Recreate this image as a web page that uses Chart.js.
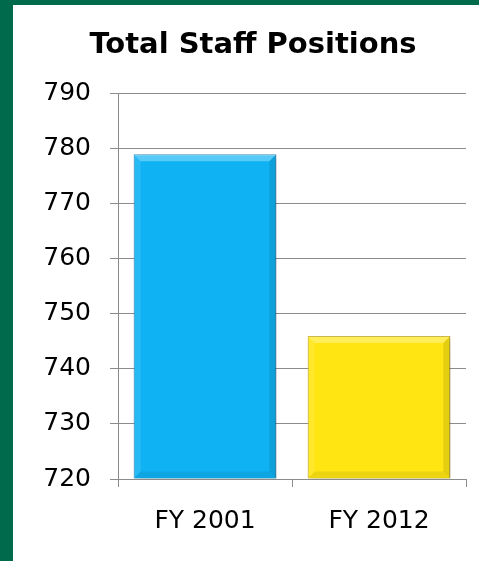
<!DOCTYPE html>
<html>
<head>
<meta charset="utf-8">
<script src="https://cdn.jsdelivr.net/npm/chart.js@4/dist/chart.umd.min.js"></script>
<style>
  html, body { margin: 0; padding: 0; }
  body { width: 479px; height: 561px; background: #006a4d; position: relative; overflow: hidden; }
  #box { position: absolute; left: 13px; top: 5px; width: 466px; height: 556px; background: #fff; }
</style>
</head>
<body>
<div id="box"><canvas id="staffChart" width="466" height="556"></canvas></div>
<script>
const categories = ["FY 2001", "FY 2012"];
const positions = [779, 746];
const barColors = ["#0fb3f4", "#ffe512"];
const barBorders = ["#0a7fb4", "#b9a000"];
const yTicks = [720, 730, 740, 750, 760, 770, 780, 790];

// little bevel + shadow, like the office chart
const bevel = {
  id: "bevel",
  beforeDatasetsDraw(chart) {
    const ctx = chart.ctx;
    ctx.save();
    ctx.shadowColor = "rgba(0,0,0,0.3)";
    ctx.shadowBlur = 6;
    ctx.shadowOffsetX = 2;
    ctx.shadowOffsetY = 3;
  },
  afterDatasetsDraw(chart) {
    const ctx = chart.ctx;
    ctx.restore();
    chart.getDatasetMeta(0).data.forEach(function (bar) {
      let l = bar.x - bar.width / 2, r = bar.x + bar.width / 2;
      let t = bar.y, b = Math.min(bar.base, chart.chartArea.bottom), d = 7;
      ctx.save();
      ctx.fillStyle = "rgba(255,255,255,0.3)";
      ctx.beginPath();
      ctx.moveTo(l, t); ctx.lineTo(r, t); ctx.lineTo(r - d, t + d); ctx.lineTo(l + d, t + d);
      ctx.fill();
      ctx.fillStyle = "rgba(255,255,255,0.1)";
      ctx.beginPath();
      ctx.moveTo(l, t); ctx.lineTo(l + d, t + d); ctx.lineTo(l + d, b - d); ctx.lineTo(l, b);
      ctx.fill();
      ctx.fillStyle = "rgba(0,0,0,0.1)";
      ctx.beginPath();
      ctx.moveTo(r, t); ctx.lineTo(r, b); ctx.lineTo(r - d, b - d); ctx.lineTo(r - d, t + d);
      ctx.fill();
      ctx.fillStyle = "rgba(0,0,0,0.07)";
      ctx.beginPath();
      ctx.moveTo(l, b); ctx.lineTo(r, b); ctx.lineTo(r - d, b - d); ctx.lineTo(l + d, b - d);
      ctx.fill();
      ctx.restore();
    });
  }
};

let ctx = document.getElementById("staffChart").getContext("2d");

const data = {
  labels: categories,
  datasets: [
    {
      label: "Total Staff Positions",
      data: positions,
      base: yTicks[0],
      backgroundColor: barColors,
      borderColor: barBorders,
      borderWidth: 1,
      barPercentage: 0.82,
      categoryPercentage: 1.0,
    },
  ],
};

const config = {
  type: "bar",
  data: data,
  plugins: [bevel],
  options: {
    responsive: false,
    animation: false,
    layout: { padding: { left: 27, right: 13, top: 0, bottom: 0 } },
    plugins: {
      legend: { display: false },
      tooltip: { enabled: false },
      title: {
        display: true,
        text: "Total Staff Positions",
        color: "#000",
        font: { family: "DejaVu Sans", size: 29, weight: "bold", lineHeight: 1.2 },
        padding: { top: 23, bottom: 31 },
      },
    },
    scales: {
      y: {
        min: 720,
        max: 790,
        afterFit: function (scale) { scale.width = 78; },
        afterBuildTicks: function (scale) { scale.ticks = yTicks.map(v => ({ value: v })); },
        ticks: {
          stepSize: 10,
          padding: 19,
          color: "#000",
          font: { family: "DejaVu Sans", size: 25 },
        },
        grid: { color: "#8c8c8c", lineWidth: 1, tickLength: 8 },
        border: { color: "#8c8c8c", width: 1 },
      },
      x: {
        afterFit: function (scale) { scale.height = 82; },
        ticks: {
          padding: 19,
          color: "#000",
          font: { family: "DejaVu Sans", size: 25 },
        },
        grid: { drawOnChartArea: false, color: "#8c8c8c", tickLength: 8, offset: true },
        border: { color: "#8c8c8c", width: 1 },
      },
    },
  },
};

let myChart = new Chart(ctx, config);
</script>
</body>
</html>
